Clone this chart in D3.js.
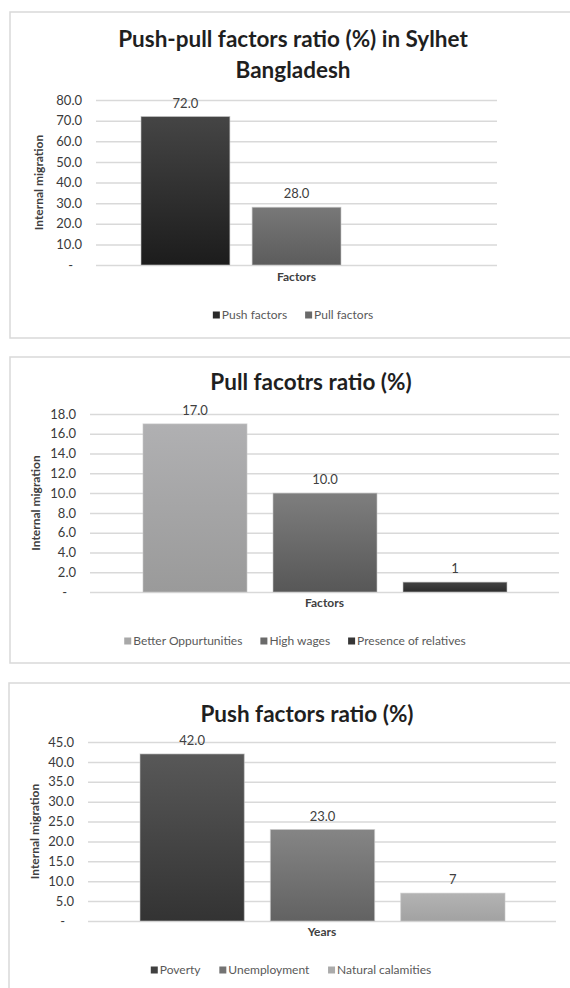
<!DOCTYPE html>
<html>
<head>
<meta charset="utf-8">
<script src="https://cdn.jsdelivr.net/npm/d3@7/dist/d3.min.js"></script>
<style>
  html, body { margin: 0; padding: 0; background: #ffffff; }
  svg { display: block; font-family: Lato, "Noto Sans", sans-serif; }
</style>
</head>
<body>
<svg id="chart" width="570" height="988"></svg>
<script>
// Push vs pull share
const pushPullCategories = ["Push factors", "Pull factors"];
const pushPullValues = [72.0, 28.0];
const pushPullLabels = ["72.0", "28.0"];
const pushPullTicks = [0, 10, 20, 30, 40, 50, 60, 70, 80];

// Pull factors breakdown
const pullCategories = ["Better Oppurtunities", "High wages", "Presence of relatives"];
const pullValues = [17.0, 10.0, 1];
const pullLabels = ["17.0", "10.0", "1"];
const pullTicks = [0, 2, 4, 6, 8, 10, 12, 14, 16, 18];

// Push factors breakdown
const pushCategories = ["Poverty", "Unemployment", "Natural calamities"];
const pushValues = [42.0, 23.0, 7];
const pushLabels = ["42.0", "23.0", "7"];
const pushTicks = [0, 5, 10, 15, 20, 25, 30, 35, 40, 45];

const svg = d3.select("#chart");
const defs = svg.append("defs");

// vertical gradient per fill colour pair
let gradId = 0;
function gradient(top, bottom) {
  const id = "g" + (gradId++);
  const g = defs.append("linearGradient").attr("id", id)
    .attr("x1", 0).attr("y1", 0).attr("x2", 0).attr("y2", 1);
  g.append("stop").attr("offset", "0%").attr("stop-color", top);
  g.append("stop").attr("offset", "100%").attr("stop-color", bottom);
  return "url(#" + id + ")";
}

function panel(cfg) {
  const g = svg.append("g");

  // chart frame
  g.append("rect")
    .attr("x", cfg.frame[0]).attr("y", cfg.frame[1])
    .attr("width", cfg.frame[2]).attr("height", cfg.frame[3])
    .attr("fill", "#ffffff").attr("stroke", "#d9d9d9").attr("stroke-width", 1.5);

  // title
  cfg.title.forEach((line, i) => {
    g.append("text")
      .attr("x", cfg.titleX).attr("y", cfg.titleY + i * 31)
      .attr("text-anchor", "middle")
      .attr("font-size", 22.5).attr("font-weight", 700).attr("fill", "#1f1f1f")
      .text(line);
  });

  const y = d3.scaleLinear().domain([0, cfg.yMax]).range([cfg.plotY1, cfg.plotY0]);
  const x = d3.scaleBand().domain(cfg.categories).range(cfg.barRange).paddingInner(0.2).paddingOuter(0);

  // y axis with gridlines
  const axis = d3.axisLeft(y)
    .tickValues(cfg.ticks)
    .tickSize(-(cfg.plotX1 - cfg.plotX0))
    .tickPadding(14)
    .tickFormat(d => d === 0 ? "-" : d3.format(".1f")(d));
  const ax = g.append("g").attr("transform", `translate(${cfg.plotX0},0)`).call(axis);
  ax.select(".domain").remove();
  ax.selectAll(".tick line").attr("stroke", "#d9d9d9").attr("stroke-width", 1.5);
  ax.selectAll(".tick text")
    .attr("font-size", 13).attr("fill", "#3a3a3a")
    .attr("font-family", "Lato, sans-serif")
    .attr("dx", d => d === 0 ? -9 : 0);

  // bars
  g.selectAll(".bar").data(cfg.values).enter().append("rect")
    .attr("x", (d, i) => x(cfg.categories[i]))
    .attr("y", d => y(d))
    .attr("width", x.bandwidth())
    .attr("height", d => y(0) - y(d))
    .attr("fill", (d, i) => cfg.fills[i])
    .attr("stroke", "#c8c8c8").attr("stroke-opacity", 0.6).attr("stroke-width", 1);

  // value labels
  g.selectAll(".val").data(cfg.values).enter().append("text")
    .attr("x", (d, i) => x(cfg.categories[i]) + x.bandwidth() / 2)
    .attr("y", d => y(d) - 9)
    .attr("text-anchor", "middle")
    .attr("font-size", 13).attr("fill", "#404040")
    .text((d, i) => cfg.labels[i]);

  // axis titles
  g.append("text")
    .attr("transform", `translate(${cfg.yTitleX},${(cfg.plotY0 + cfg.plotY1) / 2}) rotate(-90)`)
    .attr("text-anchor", "middle").attr("dy", "0.35em")
    .attr("font-size", 12).attr("font-weight", 700).attr("fill", "#404040")
    .text("Internal migration");
  g.append("text")
    .attr("x", (cfg.plotX0 + cfg.plotX1) / 2).attr("y", cfg.xTitleY)
    .attr("text-anchor", "middle").attr("dy", "0.35em")
    .attr("font-size", 12).attr("font-weight", 700).attr("fill", "#404040")
    .text(cfg.xTitle);

  // legend
  const lg = g.append("g");
  const items = lg.selectAll(".item").data(cfg.categories).enter().append("g");
  items.append("rect").attr("width", 7).attr("height", 7).attr("y", -3.5)
    .attr("fill", (d, i) => cfg.swatches[i]);
  items.append("text").attr("x", 9).attr("dy", "0.35em")
    .attr("font-size", 12).attr("fill", "#595959").text(d => d);
  let cx = 0;
  const widths = [];
  items.each(function () { widths.push(this.getBBox().width); });
  items.attr("transform", (d, i) => {
    const t = `translate(${cx},0)`;
    cx += widths[i] + 18;
    return t;
  });
  const total = cx - 18;
  lg.attr("transform", `translate(${cfg.legendCX - total / 2},${cfg.legendY})`);
}

panel({
  frame: [10, 12, 600, 326],
  title: ["Push-pull factors ratio (%) in Sylhet", "Bangladesh"],
  titleX: 293, titleY: 47,
  plotX0: 96, plotX1: 497, plotY0: 100, plotY1: 265,
  yMax: 80, ticks: pushPullTicks,
  categories: pushPullCategories, values: pushPullValues, labels: pushPullLabels,
  barRange: [141, 341],
  fills: [gradient("#454545", "#1c1c1c"), gradient("#787878", "#5c5c5c")],
  swatches: ["#2a2a2a", "#6a6a6a"],
  yTitleX: 39, xTitle: "Factors", xTitleY: 277,
  legendCX: 293, legendY: 315
});

panel({
  frame: [10, 357, 600, 306],
  title: ["Pull facotrs ratio (%)"],
  titleX: 311, titleY: 390,
  plotX0: 90, plotX1: 559, plotY0: 414, plotY1: 592,
  yMax: 18, ticks: pullTicks,
  categories: pullCategories, values: pullValues, labels: pullLabels,
  barRange: [143, 507],
  fills: [gradient("#b0b0b2", "#9a9a9a"), gradient("#7e7e7e", "#575757"), gradient("#444444", "#2c2c2c")],
  swatches: ["#a8a8a8", "#6a6a6a", "#363636"],
  yTitleX: 36, xTitle: "Factors", xTitleY: 603,
  legendCX: 295, legendY: 641
});

panel({
  frame: [9, 683, 600, 340],
  title: ["Push factors ratio (%)"],
  titleX: 307, titleY: 722,
  plotX0: 88, plotX1: 556, plotY0: 742, plotY1: 921,
  yMax: 45, ticks: pushTicks,
  categories: pushCategories, values: pushValues, labels: pushLabels,
  barRange: [140, 505],
  fills: [gradient("#585858", "#333333"), gradient("#858585", "#626262"), gradient("#b3b3b3", "#a2a2a2")],
  swatches: ["#404040", "#737373", "#ababab"],
  yTitleX: 35, xTitle: "Years", xTitleY: 932,
  legendCX: 291, legendY: 970
});
</script>
</body>
</html>
